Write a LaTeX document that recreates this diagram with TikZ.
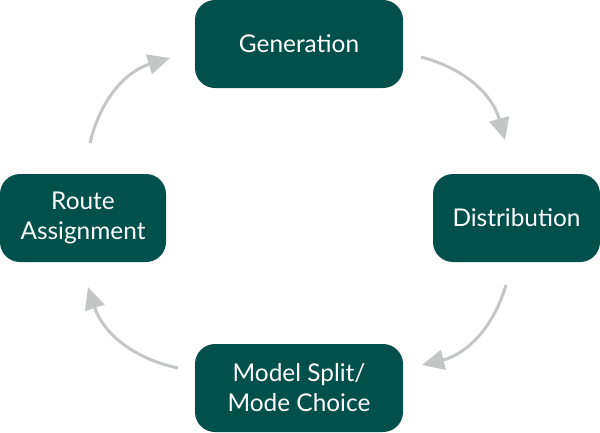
\documentclass[tikz,border=0pt]{standalone}
\usepackage{fontspec}
\setmainfont{Lato}
\usepackage{tikz}
\usetikzlibrary{arrows.meta, positioning}

\definecolor{stageteal}{HTML}{02504C}
\definecolor{cyclegray}{HTML}{C4C6C6}

\begin{document}
\begin{tikzpicture}[
    x=1pt, y=-1pt,
    stagebox/.style={rectangle, rounded corners=20pt, fill=stageteal, text=white, minimum height=88pt, align=center, font=\fontsize{24.4}{30}\selectfont, inner sep=4pt},
    cyclearrow/.style={-{Triangle[length=22pt, width=20pt]}, draw=cyclegray, line width=3pt, bend left=30}
]
\useasboundingbox (0,0) rectangle (600,432);

\node[stagebox, minimum width=208pt] (gen) at (299,44) {Generation};
\node[stagebox, minimum width=167pt] (dist) at (516.5,218) {Distribution};
\node[stagebox, minimum width=166pt] (route) at (83,218) {Route\\Assignment};
\node[stagebox, minimum width=208pt] (mode) at (299,388) {Model Split/\\Mode Choice};

% free ends of the cycle arrows
\coordinate (genout) at (421,57);
\coordinate (distin) at (505,140);
\coordinate (distout) at (506,285);
\coordinate (modein) at (422,365);
\coordinate (modeout) at (178,368);
\coordinate (routein) at (88,287);
\coordinate (routeout) at (90,143);
\coordinate (genin) at (170,58);

\draw[cyclearrow] (genout) to (distin);
\draw[cyclearrow] (distout) to (modein);
\draw[cyclearrow] (modeout) to (routein);
\draw[cyclearrow] (routeout) to (genin);
\end{tikzpicture}
\end{document}
